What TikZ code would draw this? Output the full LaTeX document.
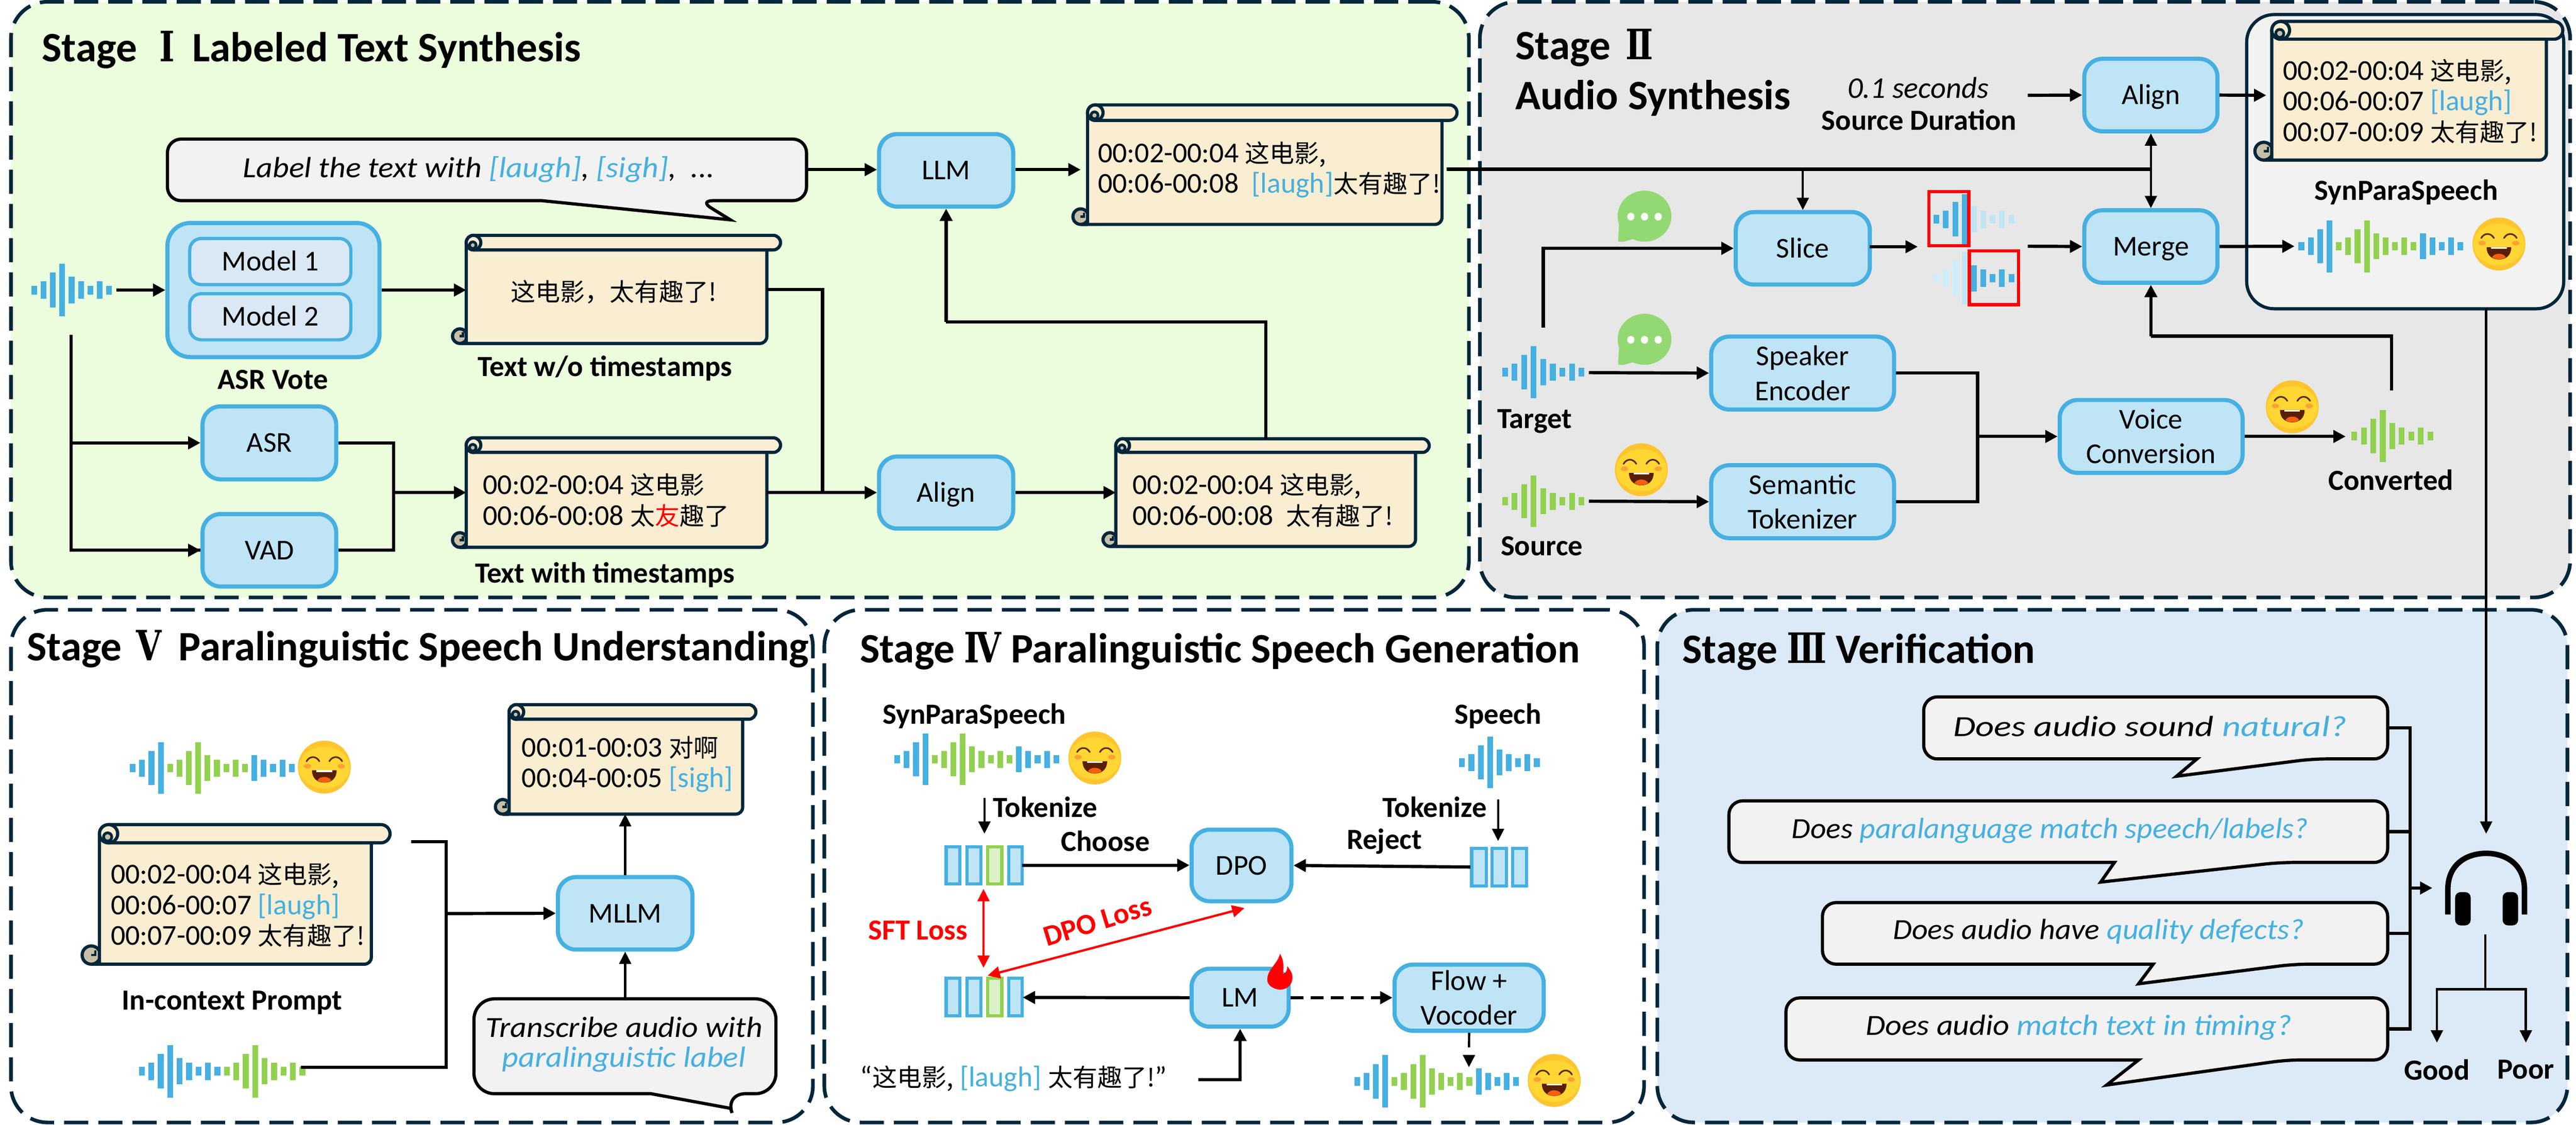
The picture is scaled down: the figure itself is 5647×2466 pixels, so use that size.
\documentclass[tikz,border=0pt]{standalone}
\usepackage{fontspec}
\setmainfont{Carlito}
\newfontfamily\cjk[Scale=0.86]{Noto Sans CJK SC}
\newfontfamily\rom[FakeStretch=.78]{DejaVu Serif}
\usetikzlibrary{arrows.meta}
\definecolor{cnavy}{HTML}{03263B}
\definecolor{cblue}{HTML}{45B0E1}
\definecolor{cfill}{HTML}{BFE4F6}
\definecolor{cinner}{HTML}{DAE8F5}
\definecolor{cgreen}{HTML}{92D14F}
\definecolor{cgfill}{HTML}{DDF1C8}
\definecolor{ccream}{HTML}{F9EDD2}
\definecolor{cbeige}{HTML}{C9BEA8}
\definecolor{pgreen}{HTML}{EBFDDD}
\definecolor{pgray}{HTML}{E7E7E7}
\definecolor{pblue}{HTML}{DCE9F6}
\definecolor{cbub}{HTML}{F2F2F2}
\definecolor{clight}{HTML}{C1E5F5}
\definecolor{clighter}{HTML}{CCEEFC}
\definecolor{cchat}{HTML}{93D973}
\newcommand\zh[1]{{\cjk #1}}
\newcommand\cb[1]{\textcolor{cblue}{#1}}
\newcommand\rn[1]{{\rom\bfseries #1}}
\newcommand\hsc[2]{\scalebox{#1}[1]{#2}}
\tikzset{
  panel/.style={draw=cnavy,line width=.8pt,dash pattern=on 5.3pt off 2.2pt,rounded corners=8pt,inner sep=0pt,outer sep=0pt},
  title/.style={font=\fontsize{9.18}{9.5}\selectfont\bfseries,inner sep=0pt,anchor=base west},
  bluebox/.style={draw=cblue,fill=cfill,line width=.9pt,rounded corners=4pt,inner sep=0pt,align=center,font=\fontsize{6.3}{7.6}\selectfont},
  oneline/.style={text height=4.06pt,text depth=0pt},
  scrollst/.style={draw=cnavy,fill=ccream,line width=.7pt},
  txt/.style={inner sep=0pt,font=\fontsize{6.3}{6.7}\selectfont,align=left},
  bl/.style={inner sep=0pt,font=\fontsize{6.4}{7}\selectfont\bfseries,align=center},
  hand/.style={inner sep=0pt,font=\fontsize{6.4}{6.6}\selectfont\itshape,align=center},
  arr/.style={line width=.7pt,-{Triangle[length=2.7pt,width=2.7pt]}},
  thinarr/.style={line width=.5pt,-{Triangle[length=2.7pt,width=2.6pt]}},
  plain/.style={line width=.7pt},
  thinplain/.style={line width=.5pt},
  redarr/.style={line width=.5pt,red,{Triangle[length=2.7pt,width=2.6pt]}-{Triangle[length=2.7pt,width=2.6pt]}},
  bubst/.style={draw=black,fill=cbub,line width=.7pt},
  tokb/.style={draw=cblue,fill=cfill,line width=.7pt},
  tokg/.style={draw=cgreen,fill=cgfill,line width=.7pt},
}
\newcommand\rectnode[7]{%
  \pgfmathsetmacro\rw{(#5-#3)*.1}\pgfmathsetmacro\rh{(#6-#4)*.1}%
  \node[#1,minimum width=\rw pt,minimum height=\rh pt] (#2) at ({(#3+#5)/2},{(#4+#6)/2}) {#7};}
% name L T R Rb barbot B
\newcommand\scrollbox[7]{%
  \pgfmathsetmacro\sr{(#6-#3)/2}\pgfmathsetmacro\srd{\sr*.1}\pgfmathsetmacro\srs{\sr*.045}%
  \filldraw[scrollst,fill=cbeige] ({#2-\sr+2},{#7-\sr}) circle[radius=\srd pt];
  \draw[draw=cnavy,line width=.5pt] ({#2-\sr*.45},{#7-\sr*1.5}) -- ({#2-\sr*.45},{#7-\sr}) -- ({#2-\sr*.9},{#7-\sr});
  \filldraw[scrollst,line join=round] (#2,{#3+\sr}) -- (#2,#7) [rounded corners=1.5pt] -- (#4,#7) -- (#4,{#3+\sr}) [sharp corners] -- cycle;
  \draw[draw=cnavy,line width=.7pt] ({#2-\sr+2},#7) -- (#2,#7);
  \filldraw[scrollst,rounded corners=\srd pt] (#2,#3) rectangle (#5,#6);
  \filldraw[scrollst] ({#2+\sr},{#3+\sr}) circle[radius=\srd pt];
  \filldraw[scrollst,fill=cbeige,line width=.6pt] ({#2+\sr*.9},{#3+\sr*1.35}) circle[radius=\srs pt];
  \rectnode{inner sep=0pt,outer sep=0pt}{#1}{#2}{#3}{#4}{#7}{}}
% x0 cy dx H colour list
\newcommand\wavebars[6]{\foreach \hh [count=\ii from 0] in {#6}{\fill[#5] ({#1+\ii*#3-6.3},{#2-\hh*#4/2}) rectangle ++(12.6,{\hh*#4});}}
\newcommand\wvA[5]{\wavebars{#1}{#2}{#3}{#4}{#5}{.165,.33,.66,1,.5,.33,.165,.33,.165}}
% blue 4, green 9, blue 5
\newcommand\wvS[4]{%
  \wavebars{#1}{#2}{#3}{#4}{cblue}{.165,.33,.66,1}%
  \wavebars{#1+4*#3}{#2}{#3}{#4}{cgreen}{.165,.33,.66,1,.5,.33,.165,.33,.165}%
  \wavebars{#1+13*#3}{#2}{#3}{#4}{cblue}{.5,.33,.165,.33,.165}}
\newcommand\face[2]{\begin{scope}[shift={(#1,#2)}]
  \fill[color={rgb,255:red,255;green,196;blue,46}] (0,0) circle[radius=5.8pt];
  \fill[color={rgb,255:red,255;green,214;blue,51}] (0,1) ellipse[x radius=5.6pt,y radius=4.6pt];
  \draw[line width=.35pt,color={rgb,255:red,90;green,40;blue,10},line cap=round] (-39,-13) .. controls (-32,-25) and (-18,-25) .. (-11,-13);
  \draw[line width=.35pt,color={rgb,255:red,90;green,40;blue,10},line cap=round] (39,-13) .. controls (32,-25) and (18,-25) .. (11,-13);
  \fill[color={rgb,255:red,255;green,160;blue,50}] (-37,-2) ellipse[x radius=.8pt,y radius=.5pt];
  \fill[color={rgb,255:red,255;green,160;blue,50}] (37,-2) ellipse[x radius=.8pt,y radius=.5pt];
  \fill[color={rgb,255:red,90;green,30;blue,5}] (-27,7) -- (27,7) .. controls (27,26) and (14,34) .. (0,34) .. controls (-14,34) and (-27,26) .. (-27,7) -- cycle;
  \fill[white] (-17,7) rectangle (17,10.5);
  \fill[color={rgb,255:red,245;green,95;blue,15}] (-15,29) .. controls (-10,19) and (10,19) .. (15,29) .. controls (8,35) and (-8,35) .. (-15,29) -- cycle;
\end{scope}}
\newcommand\chat[2]{\begin{scope}[shift={(#1,#2)}]
  \fill[cchat] (0,-1) ellipse[x radius=5.9pt,y radius=5.6pt];
  \fill[cchat] (-56,18) -- (-58,54) .. controls (-48,58) and (-36,52) .. (-22,48) -- cycle;
  \foreach \dx in {-30,0,30}{\fill[white] (\dx,0) ellipse[x radius=.8pt,y radius=.85pt];}
\end{scope}}
% name x1 y1 x2 y2 tail1 tipx tipy tail2 corner(pt)
\newcommand\bubble[9]{%
  \def\bubr{#9}\draw[bubst,rounded corners=\bubr pt] (#6,#5) -- (#2,#5) -- (#2,#3) -- (#4,#3) -- (#4,#5) -- (#7,#5) [sharp corners] -- \bubtip -- cycle;
  \rectnode{inner sep=0pt}{#1}{#2}{#3}{#4}{#5}{}}
\begin{document}
\begin{tikzpicture}[x=.1pt,y=-.1pt]
\useasboundingbox (0,0) rectangle (5647,2466);
% ---------- panels
\rectnode{panel,fill=pgreen}{p1}{24}{4}{3220}{1310}{}
\rectnode{panel,fill=pgray}{p2}{3244}{4}{5634}{1310}{}
\rectnode{panel,fill=white}{p5}{24}{1337}{1782}{2461}{}
\rectnode{panel,fill=white}{p4}{1807}{1337}{3604}{2461}{}
\rectnode{panel,fill=pblue}{p3}{3633}{1337}{5628}{2461}{}
% ---------- titles
\node[title] (t1) at (90,135) {Stage\hspace{2.8pt} \rn{Ⅰ}\hspace{1.8pt} Labeled Text Synthesis};
\node[title] (t2a) at (3320,130) {Stage\hspace{1.3pt} \rn{Ⅱ}};
\node[title] (t2b) at (3320,240) {Audio Synthesis};
\node[title] (t5) at (57,1448) {Stage\hspace{1.1pt} \rn{Ⅴ}\hspace{1.6pt} Paralinguistic Speech Understanding};
\node[title] (t4) at (1883,1453) {Stage \rn{Ⅳ} Paralinguistic Speech Generation};
\node[title] (t3) at (3686,1454) {Stage \rn{Ⅲ} Verification};
% ---------- Stage I
\def\bubtip{(1601,482)}
\bubble{pr1}{367}{305}{1768}{440}{1188}{1533}{482}{3}
\node[hand] (pr1t) at (1050,372) {\hsc{1.09}{Label the text with \cb{[laugh]}, \cb{[sigh]},\ \ ...}};
\wvA{75}{636}{20.5}{116}{cblue}
\rectnode{bluebox,rounded corners=5pt}{vote}{367}{489}{832}{783}{}
\rectnode{bluebox,oneline,fill=cinner,line width=.7pt,rounded corners=2.5pt}{m1}{416}{523}{769}{624}{Model 1}
\rectnode{bluebox,oneline,fill=cinner,line width=.7pt,rounded corners=2.5pt}{m2}{416}{644}{769}{745}{Model 2}
\node[bl] (votel) at (598,832) {ASR Vote};
\rectnode{bluebox,oneline}{asr}{444}{891}{737}{1051}{ASR}
\rectnode{bluebox,oneline}{vad}{444}{1127}{737}{1286}{VAD}
\scrollbox{sA}{1022}{516}{1681}{1711}{548}{753}
\node[txt] (sAt) at (1345,640) {\zh{这电影，太有趣了!}};
\node[bl] (sAl) at (1326,808) {Text w/o timestamps};
\scrollbox{sB}{1022}{960}{1681}{1711}{992}{1200}
\node[txt,anchor=west] (sBt) at (1057,1097) {00:02-00:04 \zh{这电影}\\00:06-00:08 \zh{太}\textcolor{red}{\zh{友}}\zh{趣了}};
\node[bl] (sBl) at (1326,1260) {Text with timestamps};
\rectnode{bluebox,oneline}{llm}{1927}{294}{2221}{453}{LLM}
\rectnode{bluebox,oneline}{ali}{1927}{1001}{2221}{1159}{Align}
\scrollbox{sC}{2384}{230}{3161}{3194}{264}{492}
\node[txt,anchor=west] (sCt) at (2405,372) {00:02-00:04 \zh{这电影,}\\00:06-00:08\ \ \cb{[laugh]}\zh{太有趣了!}};
\scrollbox{sD}{2446}{962}{3103}{3133}{992}{1198}
\node[txt,anchor=west] (sDt) at (2481,1097) {00:02-00:04 \zh{这电影,}\\00:06-00:08\ \ \zh{太有趣了!}};
% connectors stage I
\coordinate (wi0) at (255,636);
\coordinate (wd) at (156,734);
\coordinate (jAB) at (863,1080);
\coordinate (jSA) at (1803,1080);
\coordinate (jDL) at (2074,706);
\coordinate (prR) at (1768,372);
\coordinate (sCin) at (2369,372);
\draw[arr] (wi0) -- (vote.west);
\draw[arr] (vote.east) -- (vote.east -| sA.west);
\draw[plain] (wd) |- (vad.west);
\draw[arr] (wd |- asr.west) -- (asr.west);
\draw[arr] (wd |- vad.west) -- (vad.west);
\draw[plain] (asr.east) -| (jAB) |- (vad.east);
\draw[arr] (jAB) -- (sB.west);
\draw[plain] (sA.east) -| (jSA);
\draw[plain] (sB.east) -- (jSA);
\draw[arr] (sB.east) -- (ali.west);
\draw[arr] (prR) -- (prR -| llm.west);
\draw[arr] (llm.east |- sCin) -- (sCin);
\draw[arr] (ali.east) -- (sD.west);
\draw[plain] (sD.north) |- (jDL);
\draw[arr] (jDL) -- (llm.south);
% ---------- Stage II
\node[hand,font=\fontsize{6.6}{7}\selectfont\itshape] (dur1) at (4205,192) {0.1 seconds};
\node[bl] (dur2) at (4207,263) {Source Duration};
\rectnode{bluebox,oneline}{al2}{4569}{129}{4861}{288}{Align}
\rectnode{bluebox,oneline}{merge}{4569}{461}{4861}{620}{Merge}
\rectnode{bluebox,oneline}{slice}{3805}{465}{4099}{624}{Slice}
\rectnode{bluebox}{spk}{3751}{738}{4152}{898}{Speaker\\Encoder}
\rectnode{bluebox}{sem}{3751}{1020}{4152}{1180}{Semantic\\Tokenizer}
\rectnode{bluebox}{voc}{4515}{877}{4916}{1037}{Voice\\Conversion}
\rectnode{draw=cnavy,fill=cbub,line width=.7pt,rounded corners=6pt,inner sep=0pt}{spbox}{4925}{32}{5620}{677}{}
\scrollbox{sE}{4980}{47}{5582}{5618}{86}{351}
\node[txt,anchor=west] (sEt) at (5003,222) {00:02-00:04 \zh{这电影,}\\00:06-00:07 \cb{[laugh]}\\00:07-00:09 \zh{太有趣了!}};
\node[bl] (spl) at (5275,421) {SynParaSpeech};
\wvS{5045}{540}{20.5}{114}
\face{5478}{535}
\chat{3605}{475}
\chat{3605}{745}
\wvA{3299}{816}{21}{113}{cblue}
\node[bl] (tgl) at (3364,924) {Target};
\wvA{3299}{1099}{21}{113}{cgreen}
\node[bl] (srl) at (3380,1197) {Source};
\face{3598}{1030}
\face{5025}{892}
\wvA{5161}{956}{20.8}{115}{cgreen}
\node[bl] (cvl) at (5241,1052) {Converted};
% slice waves
\wavebars{4245}{481}{20.55}{115}{cblue}{.165,.33,.66}
\wavebars{4307}{481}{20.55}{111}{cblue}{1}
\wavebars{4327}{481}{20.55}{115}{clight}{.5,.33,.165,.33,.165}
\wavebars{4245}{610}{20.55}{115}{clighter}{.165,.33,.66}
\wavebars{4307}{610}{20.55}{115}{clight}{1}
\wavebars{4327}{610}{20.55}{115}{cblue}{.5,.33,.165,.33,.165}
\rectnode{draw=red,line width=.7pt,inner sep=0pt}{rb1}{4228}{420}{4316}{539}{}
\rectnode{draw=red,line width=.7pt,inner sep=0pt}{rb2}{4317}{550}{4425}{668}{}
% connectors stage II
\coordinate (durR) at (4445,209);
\coordinate (cL) at (3171,371);
\coordinate (cJ) at (4715,371);
\coordinate (tgU) at (3383,718);
\coordinate (tgO) at (3483,817);
\coordinate (srO) at (3483,1099);
\coordinate (slR) at (4099,541);
\coordinate (w1) at (4204,541);
\coordinate (w2) at (4445,540);
\coordinate (jVC) at (4335,957);
\coordinate (cvw) at (5142,957);
\coordinate (cvU) at (5243,856);
\coordinate (cvM) at (4715,737);
\coordinate (sEin) at (4968,209);
\coordinate (mW) at (5030,540);
\draw[arr] (durR) -- (al2.west);
\draw[arr] (al2.east) -- (sEin);
\draw[plain] (cL) -- (cJ);
\draw[thinarr] (cJ) -- (al2.south);
\draw[thinarr] (cJ) -- (merge.north);
\draw[thinarr] (slice.north |- cJ) -- (slice.north);
\draw[arr] (tgU) |- (slice.west);
\draw[arr] (slR) -- (w1);
\draw[arr] (w2) -- (merge.west);
\draw[arr] (merge.east) -- (mW);
\draw[arr] (tgO) -- (spk.west);
\draw[arr] (srO) -- (sem.west);
\draw[plain] (spk.east) -| (jVC) |- (sem.east);
\draw[arr] (jVC) -- (voc.west);
\draw[arr] (voc.east) -- (cvw);
\draw[plain] (cvU) |- (cvM);
\draw[arr] (cvM) -- (merge.south);
% ---------- Stage III
\def\bubtip{(4771,1702)}
\bubble{b1}{4217}{1528}{5234}{1664}{4816}{5069}{1702}{3}
\node[hand] (b1t) at (4713,1592) {\hsc{1.245}{Does audio sound \cb{natural?}}};
\def\bubtip{(4605,1934)}
\bubble{b2}{3790}{1756}{5234}{1891}{4635}{4997}{1934}{3}
\node[hand] (b2t) at (4494,1821) {\hsc{1.047}{Does \cb{paralanguage match speech/labels?}}};
\def\bubtip{(4688,2157)}
\bubble{b3}{3995}{1979}{5234}{2114}{4720}{5029}{2157}{3}
\node[hand] (b3t) at (4600,2042) {\hsc{1.06}{Does audio have \cb{quality defects?}}};
\def\bubtip{(4618,2379)}
\bubble{b4}{3915}{2188}{5234}{2324}{4688}{5013}{2379}{3}
\node[hand] (b4t) at (4557,2253) {\hsc{1.095}{Does audio \cb{match text in timing?}}};
% headphones
\draw[line width=1.2pt] (5366,2005) -- (5366,1950) .. controls (5366,1895) and (5407,1871) .. (5450,1871) .. controls (5493,1871) and (5534,1895) .. (5534,1950) -- (5534,2005);
\fill[black,rounded corners=1.2pt] (5382,1956) rectangle (5416,2029);
\fill[black,rounded corners=1.2pt] (5486,1956) rectangle (5520,2029);
\node[bl] (gd) at (5342,2345) {Good};
\node[bl] (pr) at (5537,2345) {Poor};
\coordinate (rail) at (5283,1947);
\coordinate (hpL) at (5332,1947);
\coordinate (hpT) at (5450,1828);
\coordinate (spB) at (5450,677);
\coordinate (hpB) at (5448,2049);
\coordinate (fork) at (5448,2169);
\coordinate (gdT) at (5342,2286);
\coordinate (prT) at (5537,2286);
\draw[plain] (b1.east) -| (rail);
\draw[plain] (b2.east) -| (rail);
\draw[plain] (b3.east) -| (rail);
\draw[plain] (b4.east) -| (rail);
\draw[arr] (rail) -- (hpL);
\draw[thinarr] (spB) -- (hpT);
\draw[thinplain] (hpB) -- (fork);
\draw[thinarr] (fork) -| (gdT);
\draw[thinarr] (fork) -| (prT);
% ---------- Stage V
\wvS{291}{1684}{20.5}{113}
\face{711}{1682}
\scrollbox{sF}{218}{1808}{814}{855}{1848}{2114}
\node[txt,anchor=west] (sFt) at (241,1984) {00:02-00:04 \zh{这电影,}\\00:06-00:07 \cb{[laugh]}\\00:07-00:09 \zh{太有趣了!}};
\node[bl] (sFl) at (509,2199) {In-context Prompt};
\wavebars{311}{2349}{20.7}{115}{cblue}{.165,.33,.66,1,.5,.33,.165,.33,.165}
\wavebars{497.3}{2349}{20.7}{115}{cgreen}{.165,.33,.66,1,.5,.33,.165,.33,.165}
\scrollbox{sG}{1116}{1545}{1628}{1657}{1577}{1785}
\node[txt,anchor=west] (sGt) at (1142,1676) {00:01-00:03 \zh{对啊}\\00:04-00:05 \cb{[sigh]}};
\rectnode{bluebox,oneline}{mllm}{1223}{1923}{1518}{2082}{MLLM}
\def\bubtip{(1601,2430)}
\bubble{tr}{1039}{2190}{1701}{2398}{1427}{1589}{2430}{4.5}
\node[hand] (trt) at (1368,2290) {\hsc{1.09}{Transcribe audio with}\\\hsc{1.09}{\cb{paralinguistic label}}};
\coordinate (sFo) at (901,1845);
\coordinate (jM) at (978,2003);
\coordinate (wvo) at (660,2340);
\draw[plain] (sFo) -| (jM) |- (wvo);
\draw[arr] (jM) -- (mllm.west);
\draw[thinarr] (mllm.north) -- (sG.south -| mllm.north);
\draw[thinarr] (tr.north -| mllm.north) -- (mllm.south);
% ---------- Stage IV
\node[bl] (spl2) at (2136,1570) {SynParaSpeech};
\wvS{1967}{1665}{20.5}{113}
\face{2400}{1662}
\node[bl] (spl3) at (3284,1570) {Speech};
\wvA{3205}{1672}{20.5}{113}{cblue}
\node[bl] (tok1) at (2291,1770) {Tokenize};
\node[bl] (tok2) at (3145,1770) {Tokenize};
\node[bl] (cho) at (2423,1844) {Choose};
\node[bl] (rej) at (3035,1845) {Reject};
\filldraw[tokb] (2074,1857) rectangle (2104,1938);
\filldraw[tokb] (2120,1857) rectangle (2150,1938);
\filldraw[tokg] (2165,1857) rectangle (2196,1938);
\filldraw[tokb] (2211,1857) rectangle (2241,1938);
\filldraw[tokb] (3226,1860) rectangle (3258,1943);
\filldraw[tokb] (3271,1860) rectangle (3302,1943);
\filldraw[tokb] (3316,1860) rectangle (3346,1943);
\filldraw[tokb] (2074,2145) rectangle (2104,2227);
\filldraw[tokb] (2120,2145) rectangle (2150,2227);
\filldraw[tokg] (2165,2145) rectangle (2196,2227);
\filldraw[tokb] (2211,2145) rectangle (2241,2227);
\rectnode{bluebox,oneline}{dpo}{2612}{1819}{2831}{1976}{DPO}
\rectnode{bluebox,oneline}{lm}{2612}{2124}{2825}{2251}{LM}
\rectnode{bluebox}{flow}{3057}{2115}{3384}{2260}{Flow +\\Vocoder}
\fill[red] (2806,2091) .. controls (2800,2115) and (2778,2125) .. (2778,2148) .. controls (2778,2160) and (2790,2168) .. (2805,2170) .. controls (2822,2170) and (2835,2158) .. (2833,2140) .. controls (2832,2130) and (2826,2125) .. (2822,2118) .. controls (2822,2128) and (2818,2135) .. (2812,2135) .. controls (2815,2120) and (2814,2105) .. (2806,2091) -- cycle;
\node[bl,text=red] (sft) at (2012,2040) {SFT Loss};
\node[bl,text=red,rotate=17] (dpol) at (2406,2020) {DPO Loss};
\wvS{2975}{2371}{20.5}{115}
\face{3407}{2369}
\node[txt] (quo) at (2222,2365) {“\zh{这电影,} \cb{[laugh]} \zh{太有趣了!}”};
\coordinate (t1a) at (2158,1749);
\coordinate (t1b) at (2158,1828);
\coordinate (t2a') at (3284,1753);
\coordinate (t2b') at (3284,1844);
\coordinate (tkR) at (2241,1897);
\coordinate (rjR) at (3223,1901);
\coordinate (tkL) at (2242,2187);
\coordinate (sf1) at (2156,1949);
\coordinate (sf2) at (2156,2122);
\coordinate (dl1) at (2728,1991);
\coordinate (dl2) at (2165,2139);
\coordinate (fl2) at (3220,2340);
\coordinate (quoR) at (2627,2367);
\draw[thinarr] (t1a) -- (t1b);
\draw[thinarr] (t2a') -- (t2b');
\draw[arr] (tkR) -- (tkR -| dpo.west);
\draw[arr] (rjR) -- (dpo.east);
\draw[redarr] (sf1) -- (sf2);
\draw[redarr] (dl1) -- (dl2);
\draw[arr] (lm.west) -- (tkL);
\draw[arr,dash pattern=on 2.8pt off 1.6pt] (lm.east) -- (flow.west);
\draw[thinarr,dash pattern=on 3.2pt off 2.6pt] (flow.south) -- (fl2);
\draw[arr] (quoR) -| (lm.south);
\end{tikzpicture}
\end{document}
